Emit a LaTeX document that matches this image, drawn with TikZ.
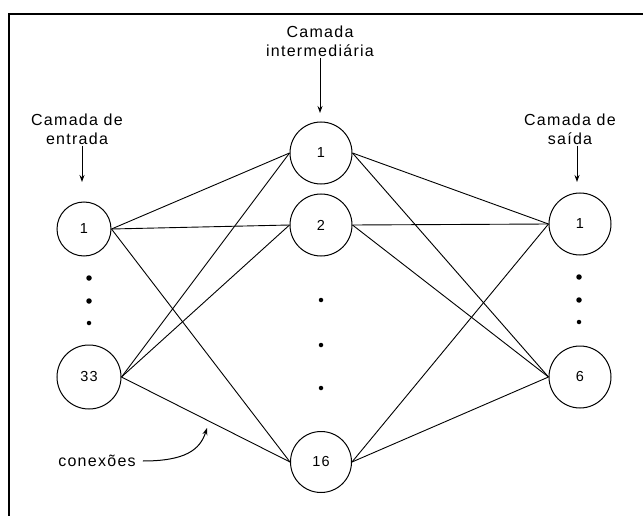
\documentclass[tikz,border=0pt]{standalone}
\usepackage{fontspec}
\setmainfont{Liberation Sans}[LetterSpace=8]
\usetikzlibrary{arrows.meta}
\begin{document}
\begin{tikzpicture}[x=1pt,y=-1pt,
  neuron/.style={draw, circle, line width=1pt, inner sep=0pt, font=\fontsize{14.5}{16}\selectfont},
  lbl/.style={align=center, inner sep=1pt, font=\fontsize{16}{19}\selectfont},
  conn/.style={line width=0.9pt},
  pointer/.style={line width=1pt, -{Stealth[length=7pt,width=5pt]}},
  dotc/.style={fill=black, circle, inner sep=0pt, minimum size=5.5pt}]
\useasboundingbox (0,0) rectangle (643,516);
\draw[line width=2pt] (8.5,516) -- (8.5,14) -- (643,14);

% nodes
\node[neuron, minimum size=54pt] (i1) at (84,229) {1};
\node[neuron, minimum size=64pt] (i33) at (89,377) {33};
\node[neuron, minimum size=62pt] (h1) at (321,153) {1};
\node[neuron, minimum size=62pt] (h2) at (321,225) {2};
\node[neuron, minimum size=61pt] (h16) at (321,462) {16};
\node[neuron, minimum size=62pt] (o1) at (580,224) {1};
\node[neuron, minimum size=62pt] (o6) at (580,377) {6};

% dots
\node[dotc] (di1) at (89,278) {};
\node[dotc] (di2) at (89,301) {};
\node[dotc, minimum size=4.5pt] (di3) at (89,323) {};
\node[dotc, minimum size=4.5pt] (dh1) at (321,300) {};
\node[dotc, minimum size=4.5pt] (dh2) at (321,345) {};
\node[dotc, minimum size=4.5pt] (dh3) at (321,388) {};
\node[dotc] (do1) at (579,277) {};
\node[dotc] (do2) at (579,300) {};
\node[dotc, minimum size=4.5pt] (do3) at (579,322) {};

% connections
\foreach \a in {i1,i33}{
  \foreach \b in {h1,h2,h16}{
    \draw[conn] (\a.east) -- (\b.west);
  }
}
\foreach \a in {h1,h2,h16}{
  \foreach \b in {o1,o6}{
    \draw[conn] (\a.east) -- (\b.west);
  }
}

% labels
\node[lbl, anchor=south] (lmid) at (320,58) {Camada\\intermediária};
\coordinate (tmid) at (320,113);
\draw[pointer] (lmid.south) -- (tmid);

\node[lbl, anchor=south] (lin) at (77,146) {Camada de\\entrada};
\coordinate (tin) at (82,182);
\draw[pointer] (lin.south -| tin) -- (tin);

\node[lbl, anchor=south] (lout) at (570,146) {Camada de\\saída};
\coordinate (tout) at (577,182);
\draw[pointer] (lout.south -| tout) -- (tout);

\node[lbl] (lcon) at (97,461) {conexões};
\coordinate (tcon) at (207,428);
\draw[pointer] (lcon.east) ++(6,0) .. controls (185,461) and (200,450) .. (tcon);
\end{tikzpicture}
\end{document}
